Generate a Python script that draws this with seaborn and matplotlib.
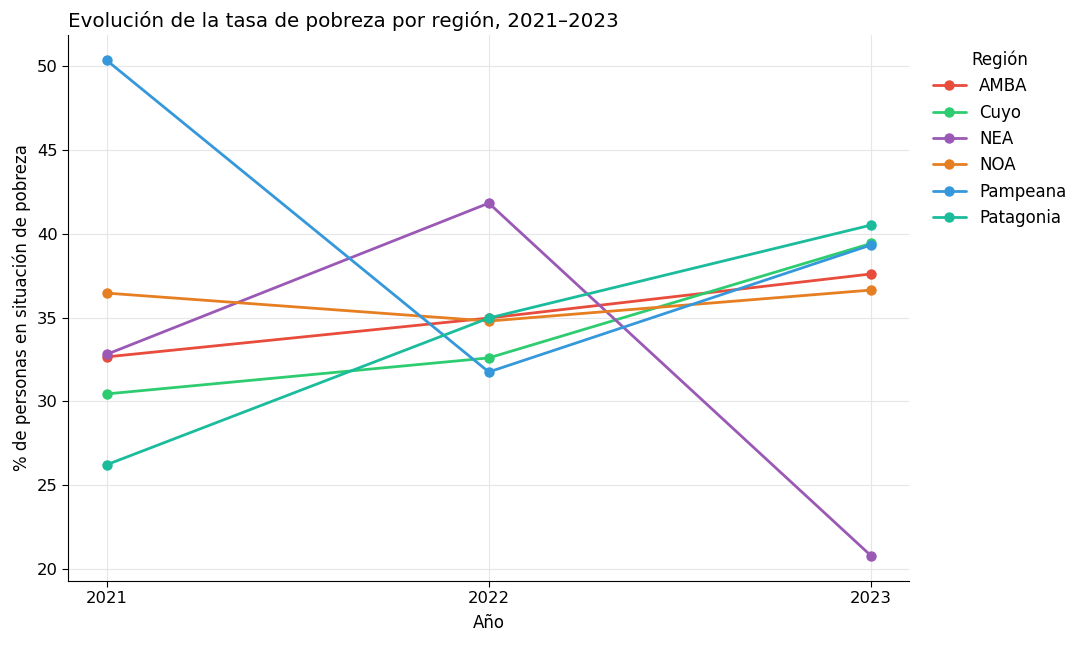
import matplotlib
matplotlib.use("Agg")
import matplotlib.pyplot as plt
import seaborn as sns
import pandas as pd

years = [2021, 2022, 2023]
regions = ["AMBA", "Cuyo", "NEA", "NOA", "Pampeana", "Patagonia"]
amba = [32.65, 34.97, 37.6]
cuyo = [30.44, 32.59, 39.42]
nea = [32.8, 41.83, 20.78]
noa = [36.46, 34.79, 36.64]
pampeana = [50.36, 31.75, 39.33]
patagonia = [26.21, 34.97, 40.52]
colors = ["#e74c3c", "#2ecc71", "#9b59b6", "#e67e22", "#3498db", "#1abc9c"]

series = [amba, cuyo, nea, noa, pampeana, patagonia]
rows = []
for r, vals in zip(regions, series):
    for y, v in zip(years, vals):
        rows.append({"Año": y, "Región": r, "valor": v})
df = pd.DataFrame(rows)

sns.set_style("whitegrid", {"grid.color": "#e6e6e6", "axes.edgecolor": "black",
                            "text.color": "black", "axes.labelcolor": "black",
                            "xtick.color": "black", "ytick.color": "black"})
fig, ax = plt.subplots(figsize=(10.85, 6.45), dpi=100)
sns.lineplot(data=df, x="Año", y="valor", hue="Región", hue_order=regions,
             palette=colors, marker="o", markersize=7.5, markeredgewidth=0,
             linewidth=2, ax=ax)
ax.set_xticks(years)
ax.set_xticklabels([str(y) for y in years])
ax.set_yticks([20, 25, 30, 35, 40, 45, 50])
ax.set_xlabel("Año", fontsize=12, labelpad=6)
ax.set_ylabel("% de personas en situación de pobreza", fontsize=12)
ax.set_title("Evolución de la tasa de pobreza por región, 2021–2023", fontsize=14.3, loc="left")
ax.tick_params(axis="both", labelsize=11.8, length=4, color="black", left=True, bottom=True)
sns.despine(ax=ax)
ax.set_xlim(2020.9, 2023.1)
leg = ax.legend(title="Región", bbox_to_anchor=(1.01, 1.0), loc="upper left",
                frameon=False, fontsize=12, title_fontsize=12)
plt.subplots_adjust(left=0.063, right=0.838, top=0.945, bottom=0.1)
fig.savefig("out.png", dpi=100)
